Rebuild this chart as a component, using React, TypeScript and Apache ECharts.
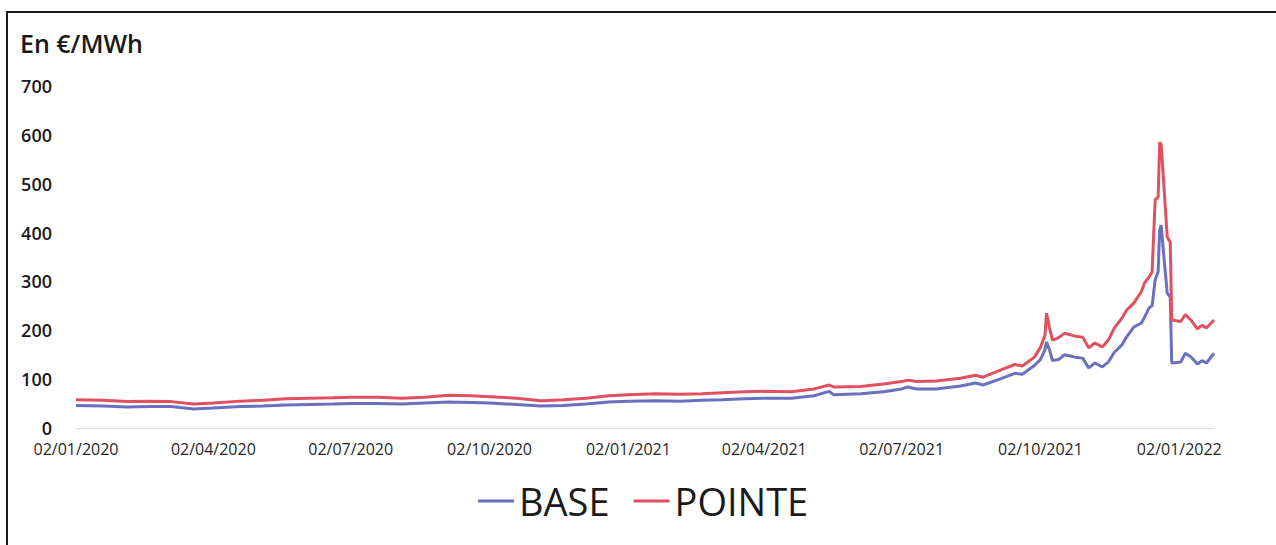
import React, { useEffect, useRef } from "react";
import * as echarts from "echarts";

const unitLabel = "En €/MWh";
const seriesNames = ["BASE", "POINTE"];
const yTicks = [0, 100, 200, 300, 400, 500, 600, 700];
const firstDay = "02/01/2020";
const lastDay = "25/01/2022";
const labelPrefixes = ["02/01/", "02/04/", "02/07/", "02/10/"];

const dates = [
  "02/01/2020", "20/01/2020", "05/02/2020", "20/02/2020", "05/03/2020", "20/03/2020",
  "02/04/2020", "20/04/2020", "05/05/2020", "20/05/2020", "05/06/2020", "20/06/2020",
  "02/07/2020", "20/07/2020", "05/08/2020", "20/08/2020", "05/09/2020", "20/09/2020",
  "02/10/2020", "20/10/2020", "05/11/2020", "20/11/2020", "05/12/2020", "20/12/2020",
  "02/01/2021", "20/01/2021", "05/02/2021", "20/02/2021", "05/03/2021", "20/03/2021",
  "02/04/2021", "20/04/2021", "05/05/2021", "15/05/2021", "18/05/2021", "05/06/2021",
  "20/06/2021", "02/07/2021", "06/07/2021", "12/07/2021", "25/07/2021", "10/08/2021",
  "20/08/2021", "25/08/2021", "05/09/2021", "15/09/2021", "20/09/2021", "28/09/2021",
  "02/10/2021", "05/10/2021", "06/10/2021", "08/10/2021", "10/10/2021", "14/10/2021",
  "18/10/2021", "25/10/2021", "30/10/2021", "03/11/2021", "07/11/2021", "12/11/2021",
  "16/11/2021", "20/11/2021", "25/11/2021", "28/11/2021", "03/12/2021", "08/12/2021",
  "10/12/2021", "13/12/2021", "15/12/2021", "17/12/2021", "19/12/2021", "20/12/2021",
  "21/12/2021", "23/12/2021", "25/12/2021", "27/12/2021", "28/12/2021", "03/01/2022",
  "06/01/2022", "10/01/2022", "14/01/2022", "17/01/2022", "20/01/2022", "25/01/2022"
];

const base = [
  46, 45, 43, 44, 44, 39,
  41, 44, 45, 47, 48, 49,
  50, 50, 49, 51, 53, 52,
  51, 48, 45, 46, 49, 53,
  55, 56, 55, 57, 58, 60,
  61, 61, 66, 75, 68, 70,
  74, 80, 84, 80, 80, 86,
  92, 88, 100, 112, 110, 128,
  140, 160, 176, 160, 138, 140,
  150, 145, 143, 123, 133, 125,
  135, 155, 170, 186, 207, 215,
  227, 246, 250, 303, 320, 405,
  415, 344, 276, 268, 133, 135,
  153, 145, 131, 138, 133, 153
];

const pointe = [
  58, 57, 54, 55, 54, 49,
  51, 55, 57, 60, 61, 62,
  63, 63, 61, 63, 67, 66,
  64, 61, 56, 58, 61, 66,
  68, 70, 69, 70, 72, 74,
  75, 74, 80, 88, 84, 85,
  90, 95, 98, 95, 96, 102,
  108, 104, 118, 130, 127, 145,
  165, 190, 235, 205, 180, 185,
  194, 188, 186, 164, 174, 166,
  180, 205, 225, 241, 256, 280,
  297, 309, 320, 467, 473, 585,
  580, 487, 391, 380, 221, 218,
  232, 220, 203, 210, 205, 221
];

function parseDay(s: string): number {
  const [d, m, y] = s.split("/").map(Number);
  return Date.UTC(y, m - 1, d);
}
function fmt(t: number): string {
  const dt = new Date(t);
  const dd = String(dt.getUTCDate()).padStart(2, "0");
  const mm = String(dt.getUTCMonth() + 1).padStart(2, "0");
  return `${dd}/${mm}/${dt.getUTCFullYear()}`;
}

export default function App() {
  const ref = useRef<HTMLDivElement>(null);
  useEffect(() => {
    if (!ref.current) return;
    const chart = echarts.init(ref.current, null, { renderer: "svg" });
    const categories: string[] = [];
    for (let t = parseDay(firstDay); t <= parseDay(lastDay); t += 86400000) {
      categories.push(fmt(t));
    }
    const font = "'Open Sans', 'Noto Sans', sans-serif";
    chart.setOption({
      animation: false,
      backgroundColor: "#ffffff",
      textStyle: { fontFamily: font },
      graphic: [
        {
          type: "rect",
          shape: { x: 7, y: 12, width: 1300, height: 600 },
          style: { fill: "none", stroke: "#1a1a1a", lineWidth: 2 },
          silent: true,
        },
        {
          type: "text",
          left: 20,
          top: 30,
          style: { text: unitLabel, fontSize: 25, fontWeight: 600, fill: "#1a1a1a", fontFamily: font },
        },
      ],
      legend: {
        data: seriesNames,
        left: 473,
        top: 477,
        icon: "rect",
        itemWidth: 36,
        itemHeight: 3,
        itemGap: 24,
        textStyle: { fontSize: 38, color: "#1a1a1a", fontFamily: font, padding: [0, 0, 0, 0] },
      },
      grid: { left: 76, right: 62, top: 86, bottom: 117, containLabel: false },
      xAxis: {
        type: "category",
        data: categories,
        boundaryGap: false,
        axisLine: { show: true, lineStyle: { color: "#d9d9d9", width: 1 } },
        axisTick: { show: false },
        splitLine: { show: false },
        axisLabel: {
          interval: (_i: number, v: string) => labelPrefixes.some((p) => v.startsWith(p)),
          fontSize: 16,
          color: "#262626",
          margin: 13,
          hideOverlap: false,
          fontFamily: font,
        },
      },
      yAxis: {
        type: "value",
        min: yTicks[0],
        max: yTicks[yTicks.length - 1],
        interval: 100,
        axisLine: { show: false },
        axisTick: { show: false },
        splitLine: { show: false },
        axisLabel: { fontSize: 18, fontWeight: 600, color: "#1a1a1a", margin: 24, fontFamily: font },
      },
      series: [
        {
          name: seriesNames[0],
          type: "line",
          symbol: "none",
          data: dates.map((d, i) => [d, base[i]]),
          lineStyle: { color: "#6a70c0", width: 3 },
          itemStyle: { color: "#6a70c0" },
        },
        {
          name: seriesNames[1],
          type: "line",
          symbol: "none",
          data: dates.map((d, i) => [d, pointe[i]]),
          lineStyle: { color: "#e0505e", width: 3 },
          itemStyle: { color: "#e0505e" },
        },
      ],
    });
    return () => chart.dispose();
  }, []);
  return (
    <div
      ref={ref}
      style={{ position: "absolute", left: 0, top: 0, width: 1276, height: 545, background: "#fff" }}
    />
  );
}
